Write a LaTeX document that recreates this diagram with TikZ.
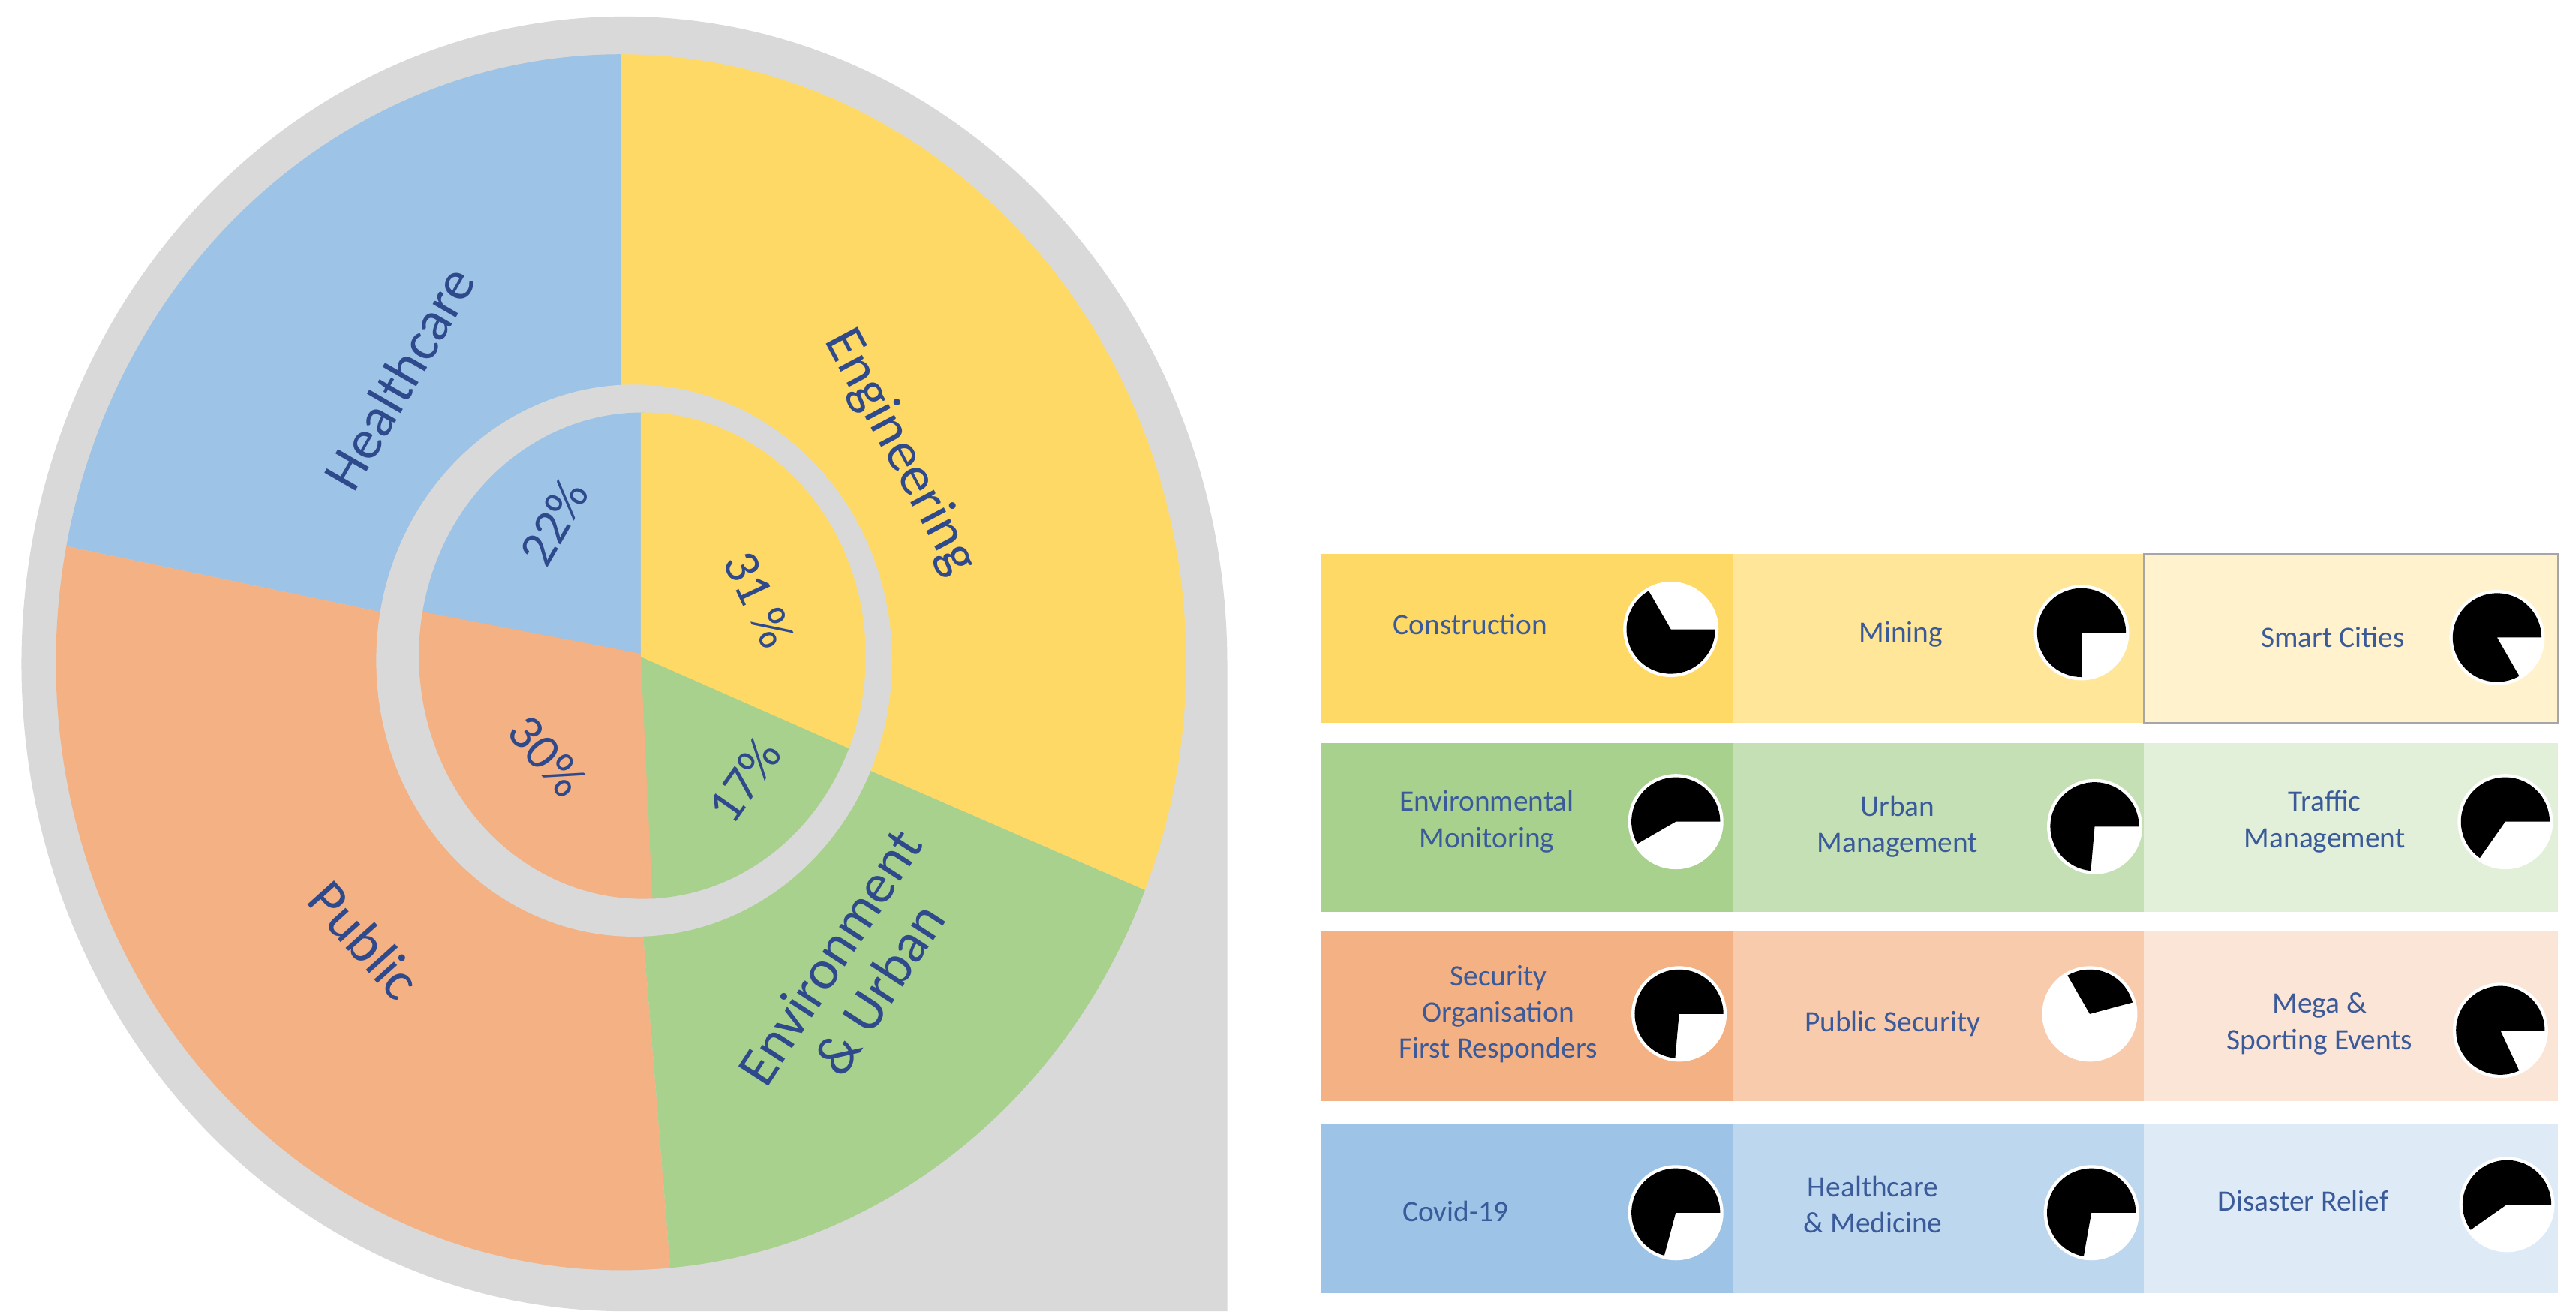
\documentclass[tikz,border=0pt]{standalone}
\usepackage{fontspec}
\setmainfont{Carlito}
\definecolor{txt}{HTML}{2F4A8C}
\definecolor{ctxt}{HTML}{3A5A9A}
\definecolor{grey}{HTML}{D9D9D9}
\definecolor{yA}{HTML}{FFD966}\definecolor{yB}{HTML}{FFE699}\definecolor{yC}{HTML}{FFF2CC}
\definecolor{gA}{HTML}{A9D18E}\definecolor{gB}{HTML}{C5E0B4}\definecolor{gC}{HTML}{E2F0D9}
\definecolor{oA}{HTML}{F4B183}\definecolor{oB}{HTML}{F8CBAD}\definecolor{oC}{HTML}{FBE5D6}
\definecolor{bA}{HTML}{9DC3E6}\definecolor{bB}{HTML}{BDD7EE}\definecolor{bC}{HTML}{DEEBF7}
\begin{document}
\begin{tikzpicture}[x=1pt,y=1pt,
  big/.style={text=txt,font=\fontsize{34}{36}\selectfont,align=center,inner sep=0pt},
  pct/.style={text=txt,font=\fontsize{31}{33}\selectfont,inner sep=0pt},
  cell/.style={text=ctxt,font=\fontsize{18}{22}\selectfont,align=center}]
\useasboundingbox (0,0) rectangle (1568,800);
\fill[white] (0,0) rectangle (1568,800);
% grey teardrop
\fill[grey] (747,396) arc[start angle=0,end angle=270,x radius=367,y radius=394] -- (747,2) -- cycle;
% outer pie
\fill[bA] (378,397) -- ++({344*cos(90)},{370*sin(90)}) arc[start angle=90,end angle=169,x radius=344,y radius=370] -- cycle;
\fill[oA] (378,397) -- ++({344*cos(169)},{370*sin(169)}) arc[start angle=169,end angle=275,x radius=344,y radius=370] -- cycle;
\fill[gA] (378,397) -- ++({344*cos(275)},{370*sin(275)}) arc[start angle=275,end angle=338,x radius=344,y radius=370] -- cycle;
\fill[yA] (378,397) -- ++({344*cos(338)},{370*sin(338)}) arc[start angle=338,end angle=450,x radius=344,y radius=370] -- cycle;
% grey ring
\fill[grey] (386,398) ellipse[x radius=157,y radius=168];
% inner pie
\begin{scope}[draw=white,line width=2pt]
\filldraw[bA] (391,401) -- ++({135*cos(90)},{147*sin(90)}) arc[start angle=90,end angle=170,x radius=135,y radius=147] -- cycle;
\filldraw[oA] (391,401) -- ++({135*cos(170)},{147*sin(170)}) arc[start angle=170,end angle=273,x radius=135,y radius=147] -- cycle;
\filldraw[gA] (391,401) -- ++({135*cos(273)},{147*sin(273)}) arc[start angle=273,end angle=338,x radius=135,y radius=147] -- cycle;
\filldraw[yA] (391,401) -- ++({135*cos(338)},{147*sin(338)}) arc[start angle=338,end angle=450,x radius=135,y radius=147] -- cycle;
\end{scope}
% labels
\node[big,rotate=60] (hc) at (243,570) {Healthcare};
\node[big,rotate=-62] (en) at (548,525) {Engineering};
\node[big,rotate=-48] (pu) at (222,228) {Public};
\node[big,rotate=57] (eu) at (520,208) {Environment\\\& Urban};
\node[pct,rotate=60] (p22) at (337,482) {22\%};
\node[pct,rotate=-65] (p31) at (462,435) {31 \%};
\node[pct,rotate=-50] (p30) at (333,340) {30\%};
\node[pct,rotate=55] (p17) at (453,325) {17\%};
% grid
\def\cellx#1#2#3#4{\fill[#4] (#1,#2) rectangle (#3,{#2+103});}
\cellx{804}{360}{1055}{yA}\cellx{1055}{360}{1305}{yB}\cellx{1305}{360}{1557}{yC}
\cellx{804}{245}{1055}{gA}\cellx{1055}{245}{1305}{gB}\cellx{1305}{245}{1557}{gC}
\cellx{804}{130}{1055}{oA}\cellx{1055}{130}{1305}{oB}\cellx{1305}{130}{1557}{oC}
\cellx{804}{13}{1055}{bA}\cellx{1055}{13}{1305}{bB}\cellx{1305}{13}{1557}{bC}
\draw[gray!70,line width=0.8pt] (1305,360) rectangle (1557,463);
\node[cell] (c1) at (895,420) {Construction};
\node[cell] (c2) at (1157,414) {Mining};
\node[cell] (c3) at (1420,412) {Smart Cities};
\node[cell] (c4) at (905,300) {Environmental\\Monitoring};
\node[cell] (c5) at (1155,297) {Urban\\Management};
\node[cell] (c6) at (1415,300) {Traffic\\Management};
\node[cell] (c7) at (912,183) {Security\\Organisation\\First Responders};
\node[cell] (c8) at (1152,177) {Public Security};
\node[cell] (c9) at (1412,177) {Mega \&\\Sporting Events};
\node[cell] (c10) at (886,63) {Covid-19};
\node[cell] (c11) at (1140,67) {Healthcare\\\& Medicine};
\node[cell] (c12) at (1402,69) {Disaster Relief};
% icons
\def\ico#1#2#3#4{\fill[white] (#1,#2) circle[radius=29];
  \fill[black] (#1,#2) -- ++(#3:27) arc[start angle=#3,end angle=#4,radius=27] -- cycle;}
\ico{1017}{417}{120}{360}
\ico{1267}{415}{0}{270}
\ico{1520}{412}{0}{300}
\ico{1020}{300}{0}{210}
\ico{1275}{297}{0}{265}
\ico{1525}{300}{0}{235}
\ico{1022}{183}{0}{265}
\ico{1272}{183}{15}{120}
\ico{1522}{173}{0}{295}
\ico{1020}{62}{0}{255}
\ico{1273}{62}{0}{260}
\ico{1526}{67}{0}{215}
\end{tikzpicture}
\end{document}
